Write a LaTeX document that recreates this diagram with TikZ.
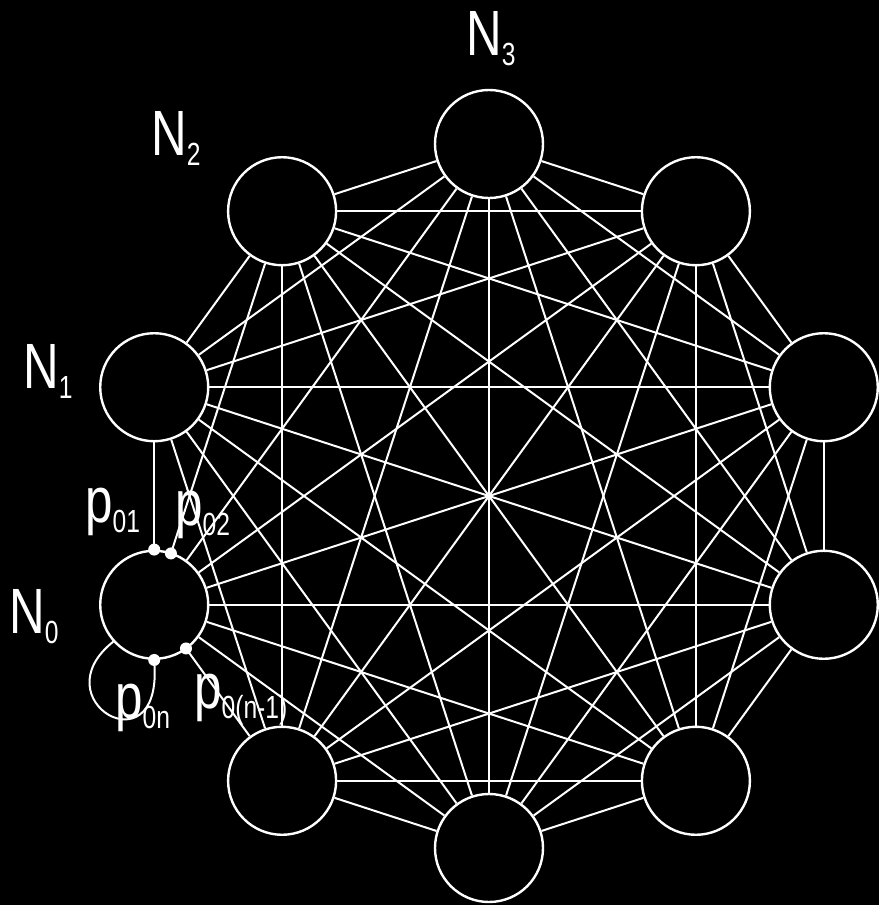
\documentclass[tikz,border=0pt]{standalone}
\usepackage{fontspec}
\newfontfamily\labfont[FakeStretch=0.77]{Liberation Sans}
\usetikzlibrary{calc}
\newcommand\mylab[2]{{\labfont\fontsize{64}{64}\selectfont #1}\raisebox{-10pt}{\labfont\fontsize{32}{32}\selectfont #2}}
\begin{document}
\begin{tikzpicture}[x=1pt,y=-1pt,
  nd/.style={circle,draw=white,line width=2.4pt,minimum size=108pt,inner sep=0pt},
  edge/.style={draw=white,line width=2pt},
  dotp/.style={circle,fill=white,inner sep=0pt,minimum size=12pt},
  lab/.style={text=white,anchor=base west,inner sep=0pt}]
\fill[black] (0,0) rectangle (879,905);
\useasboundingbox (0,0) rectangle (879,905);
\foreach \k in {0,...,9} {
  \node[nd] (n\k) at ({489+352*cos(198-36*\k)}, {496-352*sin(198-36*\k)}) {};
}
\foreach \i in {0,...,8} {
  \pgfmathtruncatemacro\s{\i+1}
  \foreach \j in {\s,...,9} { \draw[edge] (n\i) -- (n\j); }
}
\node[dotp] (p01) at (n0.north) {};
\node[dotp] (p02) at ($(n0.center)!54pt!(n2.center)$) {};
\node[dotp] (p0n) at (n0.south) {};
\node[dotp] (p0n1) at ($(n0.center)!54pt!(n9.center)$) {};
\draw[edge] (n0.222) .. controls (40,700) and (160,770) .. (p0n);
\node[lab] (lN3) at (466,55) {\mylab{N}{3}};
\node[lab] (lN2) at (151,155) {\mylab{N}{2}};
\node[lab] (lN1) at (23,388) {\mylab{N}{1}};
\node[lab] (lN0) at (9,633) {\mylab{N}{0}};
\node[lab] (lp01) at (85,522) {\mylab{p}{01}};
\node[lab] (lp02) at (175,525) {\mylab{p}{02}};
\node[lab] (lp0n) at (115,718) {\mylab{p}{0n}};
\node[lab] (lp0n1) at (194,708) {\mylab{p}{0(n-1)}};
\end{tikzpicture}
\end{document}
